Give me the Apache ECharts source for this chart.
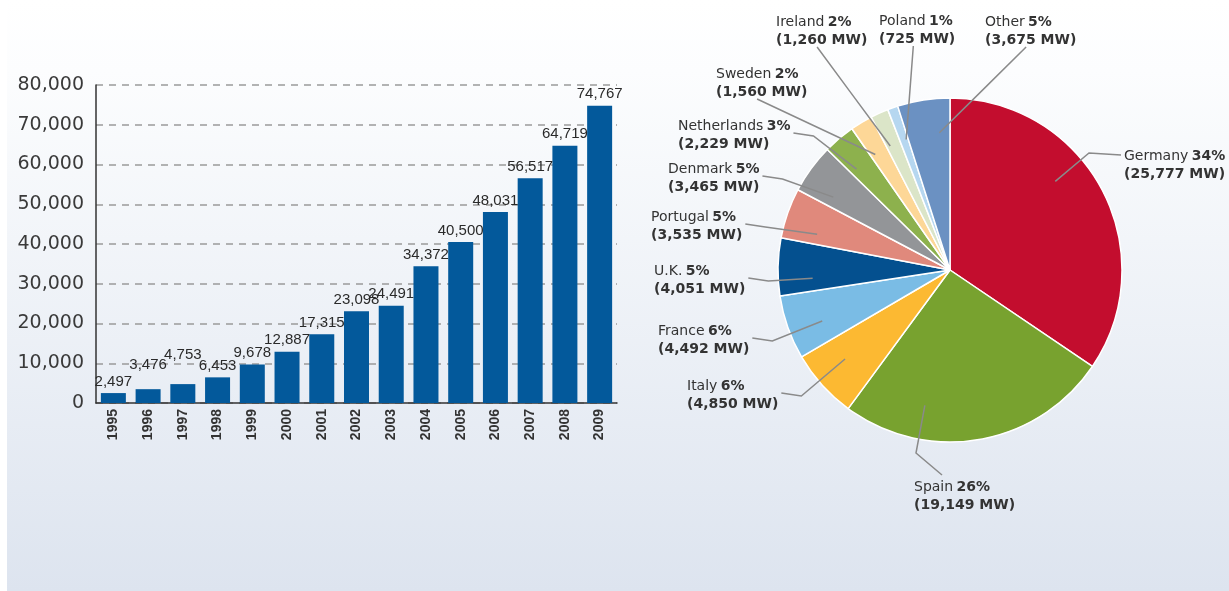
<!DOCTYPE html>
<html>
<head>
<meta charset="utf-8">
<script src="https://cdn.jsdelivr.net/npm/echarts@6/dist/echarts.min.js"></script>
<style>
  html, body { margin: 0; padding: 0; background: #fff; }
  #bg {
    position: absolute; left: 7px; top: 0; width: 1222px; height: 591px;
    background: linear-gradient(to bottom, #ffffff 0%, #fcfdfe 12%, #dde4ef 100%);
  }
  #chart { position: absolute; left: 0; top: 0; width: 1229px; height: 591px; }
</style>
</head>
<body>
<div id="bg"></div>
<div id="chart"></div>
<script>
// cumulative installed capacity (MW), by year
const years = ["1995", "1996", "1997", "1998", "1999", "2000", "2001", "2002",
  "2003", "2004", "2005", "2006", "2007", "2008", "2009"];
const capacity = [2497, 3476, 4753, 6453, 9678, 12887, 17315, 23098,
  24491, 34372, 40500, 48031, 56517, 64719, 74767];
const yTicks = [0, 10000, 20000, 30000, 40000, 50000, 60000, 70000, 80000];

// share by country in 2009 (MW)
const countries = ["Germany", "Spain", "Italy", "France", "U.K.", "Portugal",
  "Denmark", "Netherlands", "Sweden", "Ireland", "Poland", "Other"];
const countryMW = [25777, 19149, 4850, 4492, 4051, 3535, 3465, 2229, 1560, 1260, 725, 3675];
const countryColors = ["#c30d2e", "#78a22f", "#fcb932", "#7abce5", "#04508f", "#e0897c",
  "#939598", "#8db14d", "#fdd797", "#dbe5c8", "#b6d7f0", "#6b91c2"];

// pie placement
const PIE_C = [950, 270];
const PIE_R = 172;
// where each pie label block sits (top-left)
const labelPos = {
  "Germany": [1124, 147], "Spain": [914, 478], "Italy": [687, 377],
  "France": [658, 322], "U.K.": [654, 262], "Portugal": [651, 208],
  "Denmark": [668, 160], "Netherlands": [678, 117], "Sweden": [716, 65],
  "Ireland": [776, 13], "Poland": [879, 12], "Other": [985, 13]
};
// bar labels that were nudged up to avoid overlapping
const barLabelLift = { 1: 13, 2: 18 };

const fmt = echarts.format.addCommas;
const total = countryMW.reduce((a, b) => a + b, 0);

// angular span of each slice (degrees, clockwise from 12 o'clock)
const spans = [];
let acc = 0;
countryMW.forEach((v) => {
  spans.push([360 * acc / total, 360 * (acc + v) / total]);
  acc += v;
});

// point inside slice i, on the side facing pt
function insidePoint(i, pt) {
  const [s, e] = spans[i];
  const m = (e - s) * 0.25;
  const lo = s + m, hi = e - m;
  let ang = Math.atan2(pt[0] - PIE_C[0], PIE_C[1] - pt[1]) * 180 / Math.PI;
  if (ang < 0) ang += 360;
  if (ang < lo || ang > hi) {
    const d = (a, b) => Math.min(Math.abs(a - b), 360 - Math.abs(a - b));
    ang = d(ang, lo) < d(ang, hi) ? lo : hi;
  }
  const rad = ang * Math.PI / 180;
  const k = 0.8;
  return [PIE_C[0] + k * PIE_R * Math.sin(rad), PIE_C[1] - k * PIE_R * Math.cos(rad)];
}

const chart = echarts.init(document.getElementById("chart"));

const option = {
  animation: false,
  grid: { left: 96, top: 85, width: 521, height: 318 },
  xAxis: {
    type: "category",
    data: years,
    axisTick: { show: false },
    axisLine: { lineStyle: { color: "#333", width: 1.5 } },
    axisLabel: {
      rotate: 90, margin: 6, color: "#333",
      fontFamily: "Liberation Sans", fontWeight: "bold", fontSize: 14
    }
  },
  yAxis: {
    type: "value",
    min: yTicks[0],
    max: yTicks[yTicks.length - 1],
    interval: yTicks[1] - yTicks[0],
    axisLine: { show: true, lineStyle: { color: "#333", width: 1.5 } },
    axisTick: { show: false },
    axisLabel: {
      margin: 12, color: "#3a3a3a", fontFamily: "DejaVu Sans", fontSize: 19,
      formatter: (v) => fmt(v)
    },
    splitLine: { lineStyle: { color: "#9a9a9a", width: 1.5, type: [7, 6] } }
  },
  series: [
    {
      type: "bar",
      barWidth: 25,
      itemStyle: { color: "#03599b" },
      label: {
        show: true, position: "top", distance: 4, color: "#2a2a2a",
        fontFamily: "Liberation Sans", fontSize: 15,
        formatter: (p) => fmt(p.value)
      },
      data: capacity.map((v, i) => barLabelLift[i]
        ? { value: v, label: { distance: 4 + barLabelLift[i] } }
        : v)
    },
    {
      // coloured slices
      type: "pie",
      z: 2,
      center: PIE_C,
      radius: PIE_R,
      startAngle: 90,
      clockwise: true,
      itemStyle: { borderColor: "#fff", borderWidth: 1.5 },
      label: { show: false },
      labelLine: { show: false },
      data: countries.map((c, i) => ({ name: c, value: countryMW[i], itemStyle: { color: countryColors[i] } }))
    },
    {
      // same slices, transparent, on top: carries labels and leader lines
      type: "pie",
      z: 3,
      silent: true,
      center: PIE_C,
      radius: PIE_R,
      startAngle: 90,
      clockwise: true,
      itemStyle: { color: "rgba(0,0,0,0)", borderWidth: 0 },
      label: {
        show: true,
        position: "outside",
        overflow: "none",
        formatter: (p) => `{n|${p.name}} {b|${Math.round(p.percent)}%}\n{b|(${fmt(p.value)} MW)}`,
        rich: {
          n: { fontFamily: "DejaVu Sans", fontSize: 14, color: "#333", lineHeight: 18 },
          b: { fontFamily: "DejaVu Sans", fontSize: 14, fontWeight: "bold", color: "#333", lineHeight: 18 }
        }
      },
      labelLine: { show: true, lineStyle: { color: "#8a8a8a", width: 1.5 } },
      labelLayout: (p) => {
        const i = p.dataIndex;
        const pos = labelPos[countries[i]];
        const w = p.labelRect.width;
        const h = p.labelRect.height;
        let anchor, elbow, inside;
        if (pos[1] + h < PIE_C[1] - PIE_R * 0.85) {
          // above the pie: leave from the bottom edge
          anchor = [pos[0] + w * 0.45, pos[1] + h + 2];
          inside = insidePoint(i, anchor);
          elbow = [anchor[0] + (inside[0] - anchor[0]) * 0.45, anchor[1] + (inside[1] - anchor[1]) * 0.45];
        } else if (pos[1] > PIE_C[1] + PIE_R * 0.9) {
          // below the pie: leave from the top edge
          anchor = [pos[0] + 28, pos[1] - 3];
          elbow = [anchor[0] - 26, anchor[1] - 22];
          inside = insidePoint(i, elbow);
        } else if (pos[0] > PIE_C[0]) {
          anchor = [pos[0] - 3, pos[1] + 8];
          elbow = [anchor[0] - 32, anchor[1] - 2];
          inside = insidePoint(i, elbow);
        } else {
          anchor = [pos[0] + w + 3, pos[1] + h / 2];
          elbow = [anchor[0] + 20, anchor[1] + 3];
          inside = insidePoint(i, elbow);
        }
        return {
          x: pos[0], y: pos[1], align: "left", verticalAlign: "top",
          labelLinePoints: [inside, elbow, anchor]
        };
      },
      data: countries.map((c, i) => ({ name: c, value: countryMW[i] }))
    }
  ]
};

chart.setOption(option);
</script>
</body>
</html>
